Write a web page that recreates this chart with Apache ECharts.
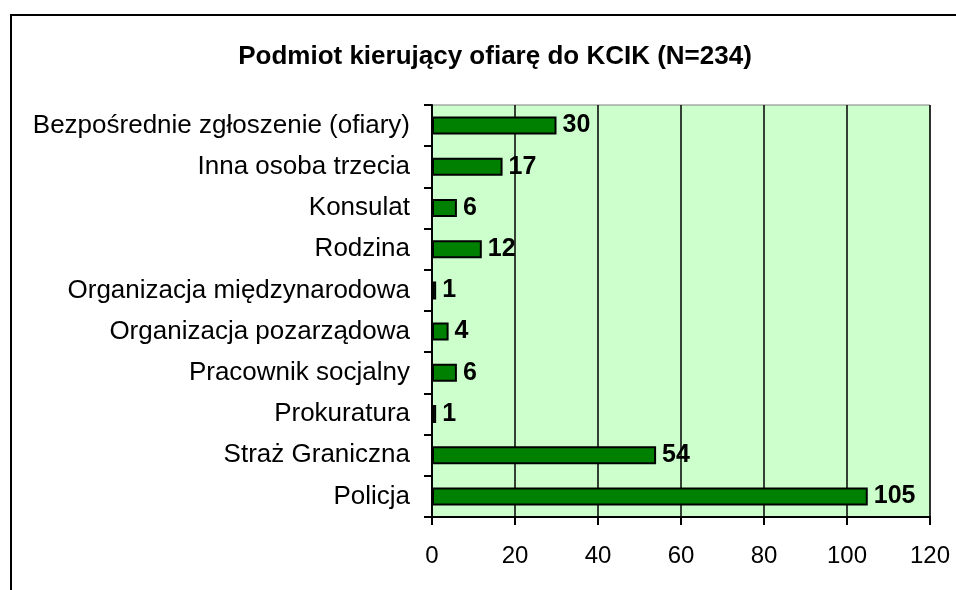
<!DOCTYPE html>
<html>
<head>
<meta charset="utf-8">
<script src="https://cdn.jsdelivr.net/npm/echarts@6/dist/echarts.min.js"></script>
<style>
  html, body { margin: 0; padding: 0; background: #fff; }
  #frame {
    position: absolute; left: 10px; top: 14px;
    width: 960px; height: 600px;
    border: 2px solid #000; box-sizing: border-box;
  }
  #chart { position: absolute; left: 0; top: 0; width: 956px; height: 590px; }
</style>
</head>
<body>
<div id="frame"></div>
<div id="chart"></div>
<script>
// kategorie od góry do dołu
const categories = [
  'Bezpośrednie zgłoszenie (ofiary)',
  'Inna osoba trzecia',
  'Konsulat',
  'Rodzina',
  'Organizacja międzynarodowa',
  'Organizacja pozarządowa',
  'Pracownik socjalny',
  'Prokuratura',
  'Straż Graniczna',
  'Policja'
]
const values = [30, 17, 6, 12, 1, 4, 6, 1, 54, 105]
const axisMax = 120
const axisStep = 20

const chart = echarts.init(document.getElementById('chart'))

const option = {
  animation: false,
  textStyle: { fontFamily: 'Liberation Sans, Arial, sans-serif' },
  title: {
    text: 'Podmiot kierujący ofiarę do KCIK (N=234)',
    left: 490,
    top: 39,
    textAlign: 'center',
    textStyle: { fontSize: 26, fontWeight: 'bold', color: '#000' }
  },
  grid: {
    left: 432,
    top: 105,
    width: 498,
    height: 412,
    show: true,
    backgroundColor: '#CCFFCC',
    borderColor: '#808080',
    borderWidth: 1
  },
  xAxis: {
    type: 'value',
    min: 0,
    max: axisMax,
    interval: axisStep,
    axisLine: { show: true, lineStyle: { color: '#000', width: 2 } },
    axisTick: { show: true, length: 8, lineStyle: { color: '#000', width: 2 } },
    axisLabel: { fontSize: 24, color: '#000', margin: 27 },
    splitLine: { show: true, lineStyle: { color: '#000', width: 1.5 } }
  },
  yAxis: {
    type: 'category',
    data: categories,
    inverse: true,
    axisLine: { show: true, lineStyle: { color: '#000', width: 2 } },
    axisTick: { show: true, length: 8, lineStyle: { color: '#000', width: 2 } },
    axisLabel: { fontSize: 26, color: '#000', margin: 22 },
    splitLine: { show: false }
  },
  series: [
    {
      type: 'bar',
      data: values,
      barWidth: 18,
      itemStyle: { color: '#008000', borderColor: '#000', borderWidth: 2 },
      label: {
        show: true,
        position: 'right',
        distance: 6,
        fontSize: 25,
        fontWeight: 'bold',
        color: '#000'
      }
    }
  ]
}

chart.setOption(option)
</script>
</body>
</html>
